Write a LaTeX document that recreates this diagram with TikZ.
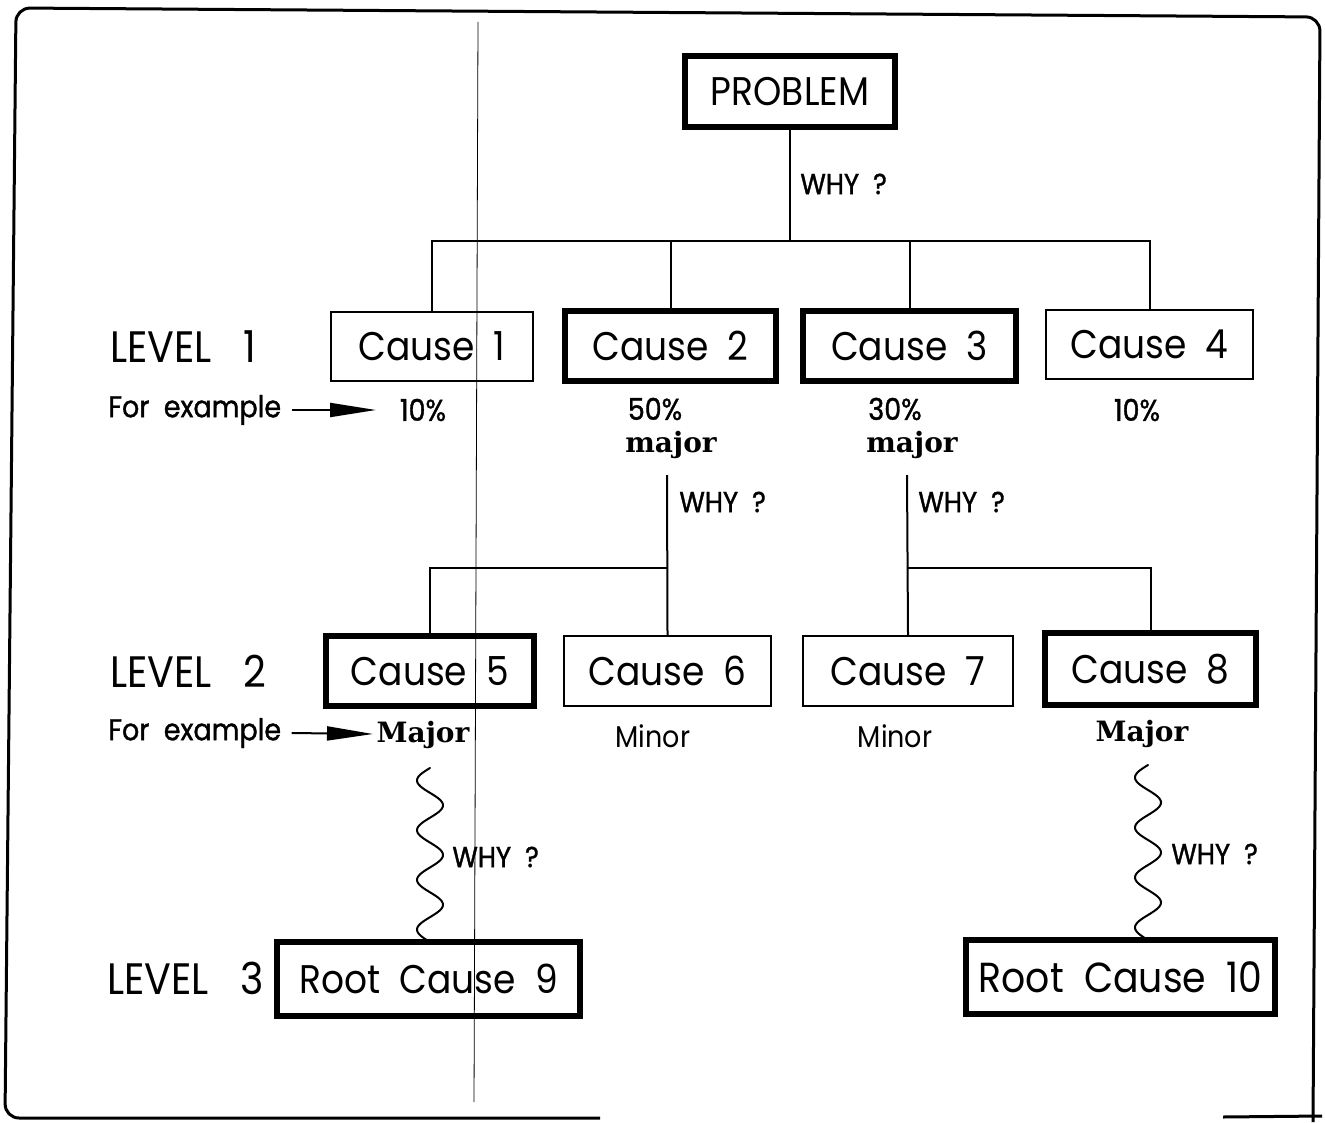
\documentclass[tikz,border=0pt]{standalone}
\usepackage{fontspec}
\newfontfamily\pop[FakeStretch=0.9]{Poppins}
\newfontfamily\popb[FakeStretch=0.9,FakeBold=1.2]{Poppins}
\newfontfamily\slab{DejaVu Serif}
\usetikzlibrary{arrows.meta}
\begin{document}
\begin{tikzpicture}[x=0.5pt,y=-0.5pt,
  box/.style={draw, line width=1pt, inner sep=0pt, font=\pop\fontsize{20}{23}\selectfont},
  thickbox/.style={box, line width=2.6pt},
  conn/.style={line width=1pt},
  why/.style={anchor=west, inner sep=0pt, font=\popb\fontsize{14.5}{16}\selectfont},
  lvl/.style={anchor=west, inner sep=0pt, font=\pop\fontsize{22}{25}\selectfont},
  ex/.style={anchor=west, inner sep=0pt, font=\popb\fontsize{15}{17}\selectfont},
  pct/.style={inner sep=0pt, font=\popb\fontsize{15}{17}\selectfont},
  mnr/.style={inner sep=0pt, font=\pop\fontsize{15}{17}\selectfont},
  maj/.style={inner sep=0pt, font=\slab\bfseries\fontsize{14}{16}\selectfont},
  exarrow/.style={line width=1pt, -{Triangle[length=23pt,width=7pt]}},
  frame/.style={line width=1.5pt, rounded corners=7pt}
]
\useasboundingbox (0,0) rectangle (1325,1122);
% frame
\draw[frame] (600,1118) -- (5,1118) -- (16,8) -- (1320,17) -- (1313,1122);
\draw[line width=1.5pt] (1223,1117) -- (1322,1116);
\draw[line width=0.4pt] (478,22) -- (474,1102);

% boxes
\node[thickbox, minimum width=105pt, minimum height=35.5pt] (prob) at (790,91.5) {PROBLEM};
\node[box, minimum width=101pt, minimum height=34.5pt] (c1) at (432,346.5) {Cause\ \ 1};
\node[thickbox, minimum width=105.5pt, minimum height=35pt] (c2) at (670.5,346) {Cause\ \ 2};
\node[thickbox, minimum width=106.5pt, minimum height=35pt] (c3) at (909.5,346) {Cause\ \ 3};
\node[box, minimum width=103.5pt, minimum height=34.5pt] (c4) at (1149.5,344.5) {Cause\ \ 4};
\node[thickbox, minimum width=104pt, minimum height=35pt] (c5) at (430,671) {Cause\ \ 5};
\node[box, minimum width=103.5pt, minimum height=35pt] (c6) at (667.5,671) {Cause\ \ 6};
\node[box, minimum width=105pt, minimum height=35pt] (c7) at (908,671) {Cause\ \ 7};
\node[thickbox, minimum width=105.5pt, minimum height=36pt] (c8) at (1150.5,669) {Cause\ \ 8};
\node[thickbox, minimum width=151.5pt, minimum height=37pt] (r9) at (428.5,979) {Root\ \ Cause\ \ 9};
\node[thickbox, minimum width=154.5pt, minimum height=37pt, font=\pop\fontsize{21}{24}\selectfont] (r10) at (1120.5,977) {Root\ \ Cause\ \ 10};

% level labels
\node[lvl] (l1) at (110,347) {LEVEL\ \ \ 1};
\node[lvl] (l2) at (110,671) {LEVEL\ \ \ 2};
\node[lvl] (l3) at (107,978) {LEVEL\ \ \ 3};

% level 1 connectors
\coordinate (b1) at (790,241);
\draw[conn] (prob.south) -- (b1);
\draw[conn] (c1.north) -- (c1.north |- b1) -- (c4.north |- b1) -- (c4.north);
\draw[conn] (c2.north) -- (c2.north |- b1);
\draw[conn] (c3.north) -- (c3.north |- b1);
\node[why] (w0) at (800,184) {WHY\ \ ?};

% level 1 annotations
\node[ex] (fe1) at (108,410) {For\ \ example};
\node[pct] (p1) at (423,410) {10\%};
\coordinate (a1e) at (376,410);
\draw[exarrow] (fe1.east) ++(10,0) -- (a1e);
\node[pct] (p2) at (655,409) {50\%};
\node[maj] (m2) at (671,445) {major};
\node[pct] (p3) at (895,409) {30\%};
\node[maj] (m3) at (912,445) {major};
\node[pct] (p4) at (1137,410) {10\%};

% level 2 connectors
\coordinate (j2) at (667,475);
\coordinate (h2) at (667,568);
\draw[conn] (j2) -- (c6.north);
\draw[conn] (c5.north) |- (h2);
\node[why] (w2) at (679,502) {WHY\ \ ?};
\coordinate (j3) at (907,475);
\coordinate (h3) at (907,568);
\draw[conn] (j3) -- (c7.north);
\draw[conn] (c8.north) |- (h3);
\node[why] (w3) at (918,502) {WHY\ \ ?};

% level 2 annotations
\node[ex] (fe2) at (108,733) {For\ \ example};
\node[maj] (mj5) at (423,735) {Major};
\coordinate (a2e) at (373,734);
\draw[exarrow] (fe2.east) ++(10,0) -- (a2e);
\node[mnr] (mn6) at (653,736) {Minor};
\node[mnr] (mn7) at (895,736) {Minor};
\node[maj] (mj8) at (1142,734) {Major};

% level 3 waves
\coordinate (s9) at (430,768);
\draw[conn, line cap=round] plot[domain=0:1, samples=140, smooth] ({430-13*sin(1260*\x)}, {768+174*\x});
\node[why] (w9) at (452,857) {WHY\ \ ?};
\coordinate (s10) at (1148,765);
\draw[conn, line cap=round] plot[domain=0:1, samples=140, smooth] ({1148-13*sin(1260*\x)}, {765+175*\x});
\node[why] (w10) at (1171,854) {WHY\ \ ?};
\end{tikzpicture}
\end{document}
